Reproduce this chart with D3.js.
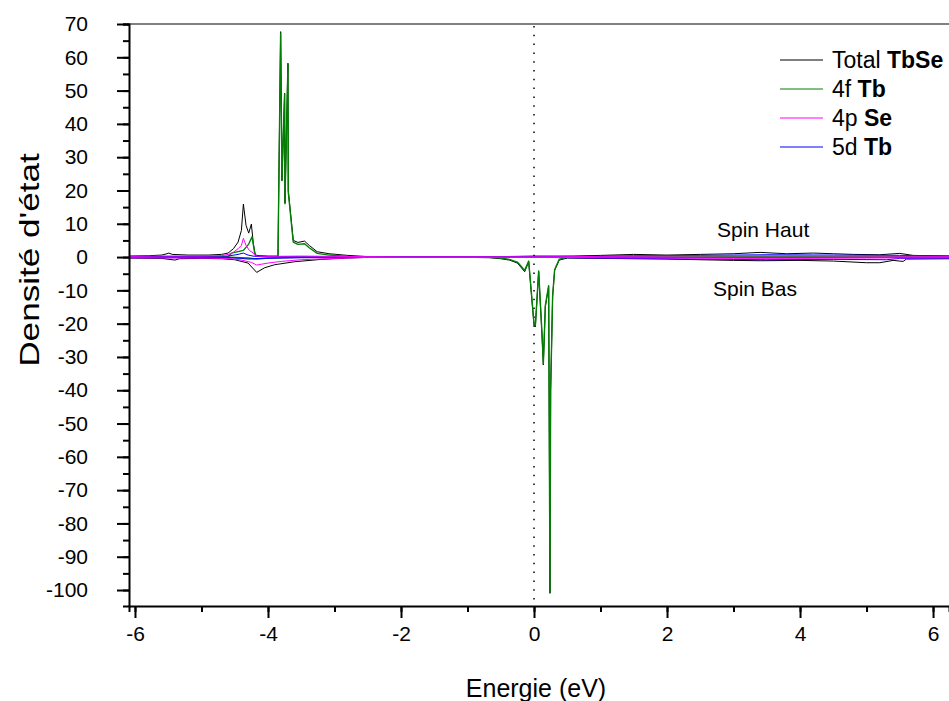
<!DOCTYPE html>
<html>
<head>
<meta charset="utf-8">
<script src="https://cdn.jsdelivr.net/npm/d3@7"></script>
<style>
  body { margin: 0; background: #fff; }
  svg { font-family: "Liberation Sans", Arial, sans-serif; }
</style>
</head>
<body>
<svg width="949" height="701"></svg>
<script>
// energy (eV), density of states
const totalUp = [[-6.1,0.3],[-5.8,0.4],[-5.6,0.6],[-5.52,1.0],[-5.49,1.2],[-5.44,0.8],[-5.2,0.6],[-4.9,0.6],[-4.7,0.8],[-4.6,1.2],[-4.52,2.5],[-4.45,4.5],[-4.40,8],[-4.37,15.9],[-4.33,9.5],[-4.29,7.2],[-4.25,9.9],[-4.22,4],[-4.19,0.5],[-4.0,0.3],[-3.85,0.3],[-3.81,67.7],[-3.795,38],[-3.79,23],[-3.75,49.2],[-3.745,16.2],[-3.70,58.2],[-3.695,20],[-3.62,5.0],[-3.55,4.4],[-3.45,4.8],[-3.38,3.5],[-3.26,1.6],[-3.08,1.0],[-2.8,0.5],[-2.5,0.15],[-2.0,0.05],[-1.5,0.05],[-1.0,0.1],[-0.6,0.1],[-0.3,0.2],[0,0.3],[0.3,0.3],[0.6,0.3],[1.0,0.5],[1.5,0.8],[2.0,0.6],[2.5,0.8],[3.0,1.0],[3.4,1.4],[3.8,1.0],[4.2,1.2],[4.5,1.0],[4.8,0.8],[5.2,0.7],[5.5,1.1],[5.7,0.5],[6.0,0.4],[6.3,0.3]];
const totalDown = [[-6.1,-0.3],[-5.6,-0.4],[-5.4,-0.9],[-5.33,-0.5],[-5.0,-0.4],[-4.7,-0.5],[-4.5,-0.8],[-4.3,-1.8],[-4.17,-4.6],[-4.05,-3.2],[-3.9,-2.3],[-3.6,-1.4],[-3.2,-0.7],[-2.8,-0.3],[-2.5,-0.1],[-1.5,-0.05],[-1.0,-0.1],[-0.67,-0.2],[-0.5,-0.5],[-0.37,-0.9],[-0.25,-1.8],[-0.14,-4.4],[-0.08,-1.4],[0.0,-20.4],[0.02,-21],[0.07,-4.4],[0.12,-23.4],[0.14,-32.4],[0.17,-14.9],[0.22,-8.9],[0.24,-101],[0.25,-40],[0.28,-11.9],[0.31,-4],[0.38,-0.9],[0.5,-0.3],[1.0,-0.4],[2.0,-0.6],[3.0,-1.0],[3.4,-1.1],[4.0,-1.0],[4.5,-1.2],[5.0,-1.7],[5.2,-1.7],[5.4,-1.0],[5.55,-1.3],[5.6,-0.6],[6.3,-0.5]];
const tb4fUp = [[-6.1,0.05],[-5.0,0.05],[-4.6,0.1],[-4.55,1.2],[-4.37,2.0],[-4.29,3.9],[-4.24,6.1],[-4.2,1.2],[-4.17,0.2],[-3.85,0.1],[-3.81,67.2],[-3.79,23],[-3.75,49],[-3.745,16],[-3.70,58],[-3.695,19.5],[-3.62,4.5],[-3.55,3.8],[-3.45,4.0],[-3.38,2.8],[-3.26,1.1],[-3.08,0.6],[-2.8,0.2],[-2.5,0.05],[6.3,0.05]];
const tb4fDown = [[-6.1,-0.05],[-4.6,-0.05],[-4.3,-0.3],[-4.17,-0.6],[-4.0,-0.3],[-3.5,-0.1],[-2.5,-0.05],[-1.0,-0.05],[-0.67,-0.1],[-0.5,-0.3],[-0.37,-0.7],[-0.25,-1.5],[-0.14,-4.0],[-0.08,-1.2],[0.0,-20],[0.02,-20.6],[0.07,-4.2],[0.12,-23],[0.14,-32],[0.17,-14.6],[0.22,-8.6],[0.24,-100.7],[0.25,-40],[0.28,-11.6],[0.31,-3.8],[0.38,-0.6],[0.5,-0.1],[6.3,-0.05]];
const se4pUp = [[-6.1,0.2],[-5.6,0.3],[-5.0,0.3],[-4.7,0.4],[-4.55,1.0],[-4.45,2.5],[-4.40,3.5],[-4.37,5.6],[-4.33,3.5],[-4.28,2.0],[-4.22,1.2],[-4.19,0.3],[-4.0,0.2],[-3.5,0.3],[-3.0,0.2],[-2.0,0.05],[0,0.05],[1,0.2],[2,0.3],[3,0.4],[4,0.4],[5,0.3],[6.3,0.2]];
const se4pDown = [[-6.1,-0.2],[-5.0,-0.3],[-4.6,-0.4],[-4.4,-0.9],[-4.25,-1.6],[-4.17,-2.4],[-4.0,-1.8],[-3.8,-1.3],[-3.5,-0.8],[-3.0,-0.4],[-2.5,-0.1],[-1,-0.05],[0,-0.05],[1,-0.2],[2,-0.3],[3,-0.4],[4,-0.4],[5,-0.3],[6.3,-0.2]];
const tb5dUp = [[-6.1,0.2],[-5,0.2],[-4.6,0.3],[-4.45,0.8],[-4.37,1.2],[-4.3,0.6],[-4.2,0.2],[-3.5,0.1],[-2,0.05],[0,0.05],[0.5,0.2],[1.5,0.4],[2.5,0.5],[3.5,0.7],[4.5,0.6],[5.5,0.5],[6.3,0.3]];
const tb5dDown = [[-6.1,-0.2],[-4.6,-0.2],[-4.4,-0.4],[-4.3,-0.6],[-4.1,-0.4],[-3.5,-0.2],[-2,-0.05],[0,-0.05],[0.5,-0.2],[1.5,-0.4],[2.5,-0.6],[3.5,-0.8],[4.5,-0.7],[5.3,-0.8],[5.5,-0.4],[6.3,-0.3]];

const legendNames = [["Total ", "TbSe"], ["4f ", "Tb"], ["4p ", "Se"], ["5d ", "Tb"]];
const legendColors = ["#000000", "#008000", "#ff00ff", "#0000ff"];
const xTicks = [-6, -4, -2, 0, 2, 4, 6];
const yTicks = d3.range(-100, 71, 10);

const svg = d3.select("svg");
const pLeft = 129, pTop = 24, pRight = 949, pBottom = 606;

const x = d3.scaleLinear().domain([-6.09, 6.24]).range([pLeft, pRight]);
const y = d3.scaleLinear().domain([-104.8, 70]).range([pBottom, pTop]);

const line = d3.line().x(d => x(d[0])).y(d => y(d[1]));

svg.append("defs").append("clipPath").attr("id", "clip")
    .append("rect").attr("x", pLeft).attr("y", pTop).attr("width", pRight - pLeft).attr("height", pBottom - pTop);

// top frame
svg.append("line").attr("x1", pLeft).attr("x2", pRight).attr("y1", pTop).attr("y2", pTop)
    .attr("stroke", "#808080").attr("stroke-width", 2);

// fermi level
svg.append("line").attr("x1", x(0)).attr("x2", x(0)).attr("y1", pTop + 2).attr("y2", pBottom)
    .attr("stroke", "#000").attr("stroke-width", 1.5).attr("stroke-dasharray", "1.5,7.3");

const plot = svg.append("g").attr("clip-path", "url(#clip)");
const series = [
    [totalUp, "#000000", 1], [totalDown, "#000000", 1],
    [tb4fUp, "#008000", 1.4], [tb4fDown, "#008000", 1.4],
    [tb5dUp, "#0000ff", 1], [tb5dDown, "#0000ff", 1],
    [se4pUp, "#ff00ff", 1], [se4pDown, "#ff00ff", 1]
];
plot.selectAll("path.dos").data(series).enter().append("path")
    .attr("class", "dos")
    .attr("d", d => line(d[0]))
    .attr("fill", "none")
    .attr("stroke", d => d[1])
    .attr("stroke-width", d => d[2])
    .attr("stroke-linejoin", "round");

// axes
const fmt = d => String(d);
const xAxis = svg.append("g").attr("transform", `translate(0,${pBottom})`);
xAxis.call(d3.axisBottom(x).tickValues(d3.range(-6, 7, 1)).tickSize(6).tickFormat(""));
xAxis.append("g").call(d3.axisBottom(x).tickValues(xTicks).tickSize(12).tickPadding(8).tickFormat(fmt));

const yAxis = svg.append("g").attr("transform", `translate(${pLeft},0)`);
yAxis.call(d3.axisLeft(y).tickValues(d3.range(-100, 71, 5)).tickSize(6).tickFormat(""));
yAxis.append("g").call(d3.axisLeft(y).tickValues(yTicks).tickSize(12).tickPadding(29).tickFormat(fmt));

svg.selectAll(".domain").attr("stroke", "#000").attr("stroke-width", 2);
svg.selectAll(".tick line").attr("stroke", "#000").attr("stroke-width", 2);
svg.selectAll(".tick text").attr("font-size", 21).attr("fill", "#000")
    .attr("font-family", "Liberation Sans, Arial, sans-serif");
svg.selectAll(".domain").filter((d, i, n) => n[i].parentNode !== xAxis.node() && n[i].parentNode !== yAxis.node()).remove();

// titles
svg.append("text").attr("x", 536).attr("y", 697).attr("text-anchor", "middle")
    .attr("font-size", 25).text("Energie (eV)");
svg.append("text").attr("transform", `translate(39,260) rotate(-90) scale(1.3,1)`).attr("text-anchor", "middle")
    .attr("font-size", 27).text("Densité d'état");

svg.append("text").attr("x", 717).attr("y", 237).attr("font-size", 21).text("Spin Haut");
svg.append("text").attr("x", 713).attr("y", 296).attr("font-size", 21).text("Spin Bas");

// legend
const legend = svg.append("g");
const rows = legend.selectAll("g").data(legendNames).enter().append("g")
    .attr("transform", (d, i) => `translate(780,${60 + i * 29})`);
rows.append("line").attr("x1", 0).attr("x2", 43)
    .attr("stroke", (d, i) => legendColors[i]).attr("stroke-width", 1.2);
const lt = rows.append("text").attr("x", 52).attr("y", 8).attr("font-size", 23);
lt.append("tspan").text(d => d[0]);
lt.append("tspan").attr("font-weight", "bold").text(d => d[1]);
</script>
</body>
</html>
